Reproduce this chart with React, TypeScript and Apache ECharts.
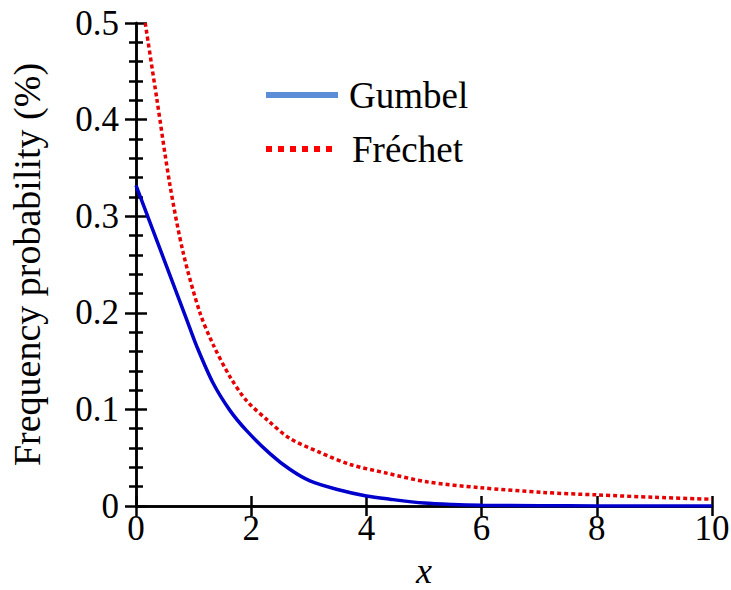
import React, { useEffect, useRef } from "react";
import * as echarts from "echarts";

const gumbelX = [0, 0.5, 0.88, 1.05, 1.34, 1.63, 1.92, 2.33, 2.67, 3.02, 3.48, 4, 4.41, 5, 5.5, 6, 7, 8, 9, 10];
const gumbelY = [0.332, 0.253, 0.193, 0.166, 0.127, 0.099, 0.078, 0.054, 0.038, 0.026, 0.0174, 0.0104, 0.007, 0.003, 0.0015, 0.0008, 0.0003, 0.0001, 0, 0];
const frechetX = [0.16, 0.36, 0.59, 0.82, 1.11, 1.34, 1.63, 1.92, 2.3, 2.67, 3.19, 3.72, 4.35, 5.05, 5.97, 7.07, 8, 9, 10];
const frechetY = [0.5, 0.422, 0.332, 0.262, 0.2, 0.167, 0.134, 0.109, 0.088, 0.07, 0.0555, 0.043, 0.034, 0.025, 0.019, 0.014, 0.0115, 0.009, 0.007];
const legendNames = ["Gumbel", "Fréchet"];

const FONT = "Liberation Serif";

export default function App() {
  const ref = useRef<HTMLDivElement>(null);
  useEffect(() => {
    if (!ref.current) return;
    document.body.style.margin = "0";
    const chart = echarts.init(ref.current, null, { renderer: "svg" });
    const axisLine = { show: true, lineStyle: { color: "#000", width: 2.5 } };
    const label = { color: "#000", fontFamily: FONT, fontSize: 35 };
    chart.setOption({
      animation: false,
      backgroundColor: "#fff",
      grid: { left: 136, top: 23, right: 19, bottom: 84, containLabel: false, outerBoundsMode: "none" },
      xAxis: [
        {
          type: "value", min: 0, max: 10, interval: 2, position: "bottom",
          axisLine, axisTick: { inside: true, length: 10, lineStyle: { color: "#000", width: 2.5 } },
          axisLabel: { ...label, margin: 5 }, splitLine: { show: false },
          name: "x", nameLocation: "middle", nameGap: 47,
          nameTextStyle: { color: "#000", fontFamily: FONT, fontSize: 36, fontStyle: "italic", lineHeight: 36 },
        },
        {
          type: "value", min: 0, max: 10, interval: 2, position: "top",
          axisLine, axisTick: { inside: true, length: 10, lineStyle: { color: "#000", width: 2.5 } },
          axisLabel: { show: false }, splitLine: { show: false },
        },
      ],
      yAxis: [
        {
          type: "value", min: 0, max: 0.5, interval: 0.1, position: "left",
          axisLine, axisTick: { inside: true, length: 11, lineStyle: { color: "#000", width: 2.5 } },
          minorTick: { show: true, splitNumber: 5, length: 7, lineStyle: { color: "#000", width: 2.5 } },
          axisLabel: { ...label, margin: 17, padding: [0, 0, 5, 0], formatter: (v: number) => (v === 0 ? "0" : v.toFixed(1)) },
          splitLine: { show: false },
          name: "Frequency probability (%)", nameLocation: "middle", nameGap: 90,
          nameTextStyle: { color: "#000", fontFamily: FONT, fontSize: 38 },
        },
        {
          type: "value", min: 0, max: 0.5, interval: 0.1, position: "right",
          axisLine, axisTick: { inside: true, length: 11, lineStyle: { color: "#000", width: 2.5 } },
          minorTick: { show: true, splitNumber: 5, length: 7, lineStyle: { color: "#000", width: 2.5 } },
          axisLabel: { show: false }, splitLine: { show: false },
        },
      ],
      series: [
        {
          name: legendNames[0], type: "line", smooth: 0.3, symbol: "none",
          data: gumbelX.map((x, i) => [x, gumbelY[i]]),
          lineStyle: { color: "#0000cc", width: 3.5 }, clip: true,
        },
        {
          name: legendNames[1], type: "line", smooth: 0.3, symbol: "none",
          data: frechetX.map((x, i) => [x, frechetY[i]]),
          lineStyle: { color: "#e60000", width: 3.5, type: [4, 3] }, clip: true,
        },
      ],
      graphic: [
        { type: "line", shape: { x1: 266, y1: 95, x2: 338, y2: 95 }, style: { stroke: "#5b8ed6", lineWidth: 6 } },
        { type: "text", x: 349, y: 95, style: { text: legendNames[0], fontFamily: FONT, fontSize: 37, fill: "#000", verticalAlign: "middle" } },
        { type: "line", shape: { x1: 266, y1: 149, x2: 332, y2: 149 }, style: { stroke: "#ff0000", lineWidth: 6, lineDash: [6, 6] } },
        { type: "text", x: 352, y: 149, style: { text: legendNames[1], fontFamily: FONT, fontSize: 37, fill: "#000", verticalAlign: "middle" } },
      ],
    });
    return () => chart.dispose();
  }, []);
  return <div ref={ref} style={{ width: 731, height: 590 }} />;
}
